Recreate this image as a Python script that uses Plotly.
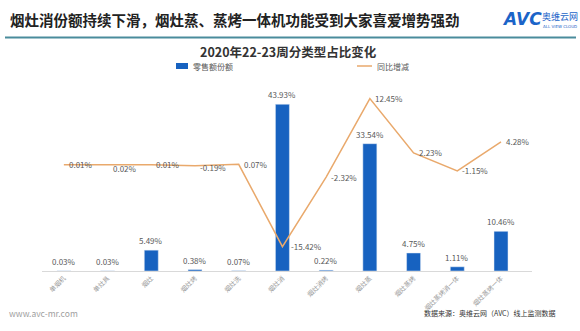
import plotly.graph_objects as go

categories = ["单烟机", "单灶具", "烟灶", "烟灶烤", "烟灶洗", "烟灶消", "烟灶消烤",
              "烟灶蒸", "烟灶蒸烤", "烟灶蒸烤消一体", "烟灶蒸烤一体"]
share = [0.03, 0.03, 5.49, 0.38, 0.07, 43.93, 0.22, 33.54, 4.75, 1.11, 10.46]
yoy = [0.01, 0.02, 0.01, -0.19, 0.07, -15.42, -2.32, 12.45, 2.23, -1.15, 4.28]

W, H = 580, 331
ML, MR, MT, MB = 42, 48, 85, 60
PW, PH = W - ML - MR, H - MT - MB

def px(x):
    return (x - ML) / PW

def py(y):
    return (H - MB - y) / PH

BLUE = "#1762C0"
ORANGE = "#E9A96C"
GRAY = "#595959"
FONT = "Noto Sans CJK SC"

fig = go.Figure()
fig.add_trace(go.Bar(x=categories, y=share, name="零售额份额", marker_color=BLUE))
fig.add_trace(go.Scatter(x=categories, y=yoy, name="同比增减", yaxis="y2", mode="lines",
                         line=dict(color=ORANGE, width=1.5)))

fig.update_layout(
    width=W, height=H, margin=dict(l=ML, r=MR, t=MT, b=MB),
    paper_bgcolor="white", plot_bgcolor="white",
    font=dict(family=FONT, color=GRAY),
    bargap=0.68, showlegend=False,
    xaxis=dict(tickangle=-45, tickfont=dict(size=6.5, color="#9a9a9a", family=FONT),
               showline=True, linecolor="#d9d9d9", linewidth=1, ticks="",
               showgrid=False),
    yaxis=dict(range=[0, 49], visible=False, showgrid=False),
    yaxis2=dict(range=[-20, 15], overlaying="y", visible=False, showgrid=False),
)

ann = []
for c, v in zip(categories, share):
    ann.append(dict(text=f"{v:.2f}%", x=c, y=v, xref="x", yref="y", yanchor="bottom",
                    xanchor="center", yshift=2, showarrow=False,
                    font=dict(size=8, color=GRAY, family=FONT)))
ydy = [0, -4, 0, -2, 0, 0, 0, 0, 0, 0, 0]
for c, v, d in zip(categories, yoy, ydy):
    ann.append(dict(text=f"{v:.2f}%", x=c, y=v, xref="x", yref="y2", yanchor="middle",
                    xanchor="left", xshift=3 if c not in ("烟灶消",) else 7, yshift=d,
                    showarrow=False, font=dict(size=8, color=GRAY, family=FONT)))

paper_ann = [
    dict(text="<b>烟灶消份额持续下滑，烟灶蒸、蒸烤一体机功能受到大家喜爱增势强劲</b>",
         x=px(8), y=py(19), xanchor="left", yanchor="middle",
         font=dict(size=14.5, color="#222222", family=FONT)),
    dict(text="<b><i>AVC</i></b>", x=px(500), y=py(19), xanchor="left", yanchor="middle",
         font=dict(size=17, color="#1B64C8", family="DejaVu Sans")),
    dict(text="奥维云网", x=px(540), y=py(16), xanchor="left", yanchor="middle",
         font=dict(size=9, color="#1B64C8", family=FONT)),
    dict(text="ALL VIEW CLOUD", x=px(541), y=py(26), xanchor="left", yanchor="middle",
         font=dict(size=4, color="#1B64C8", family="DejaVu Sans")),
    dict(text="<b>2020年22-23周分类型占比变化</b>", x=px(288), y=py(52),
         xanchor="center", yanchor="middle",
         font=dict(size=12.5, color="#333333", family=FONT)),
    dict(text="零售额份额", x=px(191), y=py(66), xanchor="left", yanchor="middle",
         font=dict(size=8, color=GRAY, family=FONT)),
    dict(text="同比增减", x=px(375), y=py(66), xanchor="left", yanchor="middle",
         font=dict(size=8, color=GRAY, family=FONT)),
    dict(text="www.avc-mr.com", x=px(7), y=py(313), xanchor="left", yanchor="middle",
         font=dict(size=8.5, color="#a0a0a0", family=FONT)),
    dict(text="数据来源：奥维云网（AVC）线上监测数据", x=px(422), y=py(313),
         xanchor="left", yanchor="middle",
         font=dict(size=7, color="#333333", family=FONT)),
]
for a in paper_ann:
    a.update(xref="paper", yref="paper", showarrow=False)
fig.update_layout(annotations=ann + paper_ann)

fig.add_shape(type="line", xref="paper", yref="paper",
              x0=px(5), x1=px(576), y0=py(37.5), y1=py(37.5),
              line=dict(color="#4A8C9C", width=2))
fig.add_shape(type="rect", xref="paper", yref="paper",
              x0=px(176), x1=px(188), y0=py(63), y1=py(69),
              fillcolor=BLUE, line=dict(width=0))
fig.add_shape(type="line", xref="paper", yref="paper",
              x0=px(357), x1=px(372), y0=py(66), y1=py(66),
              line=dict(color=ORANGE, width=1.5))

fig.write_html("out.html")
